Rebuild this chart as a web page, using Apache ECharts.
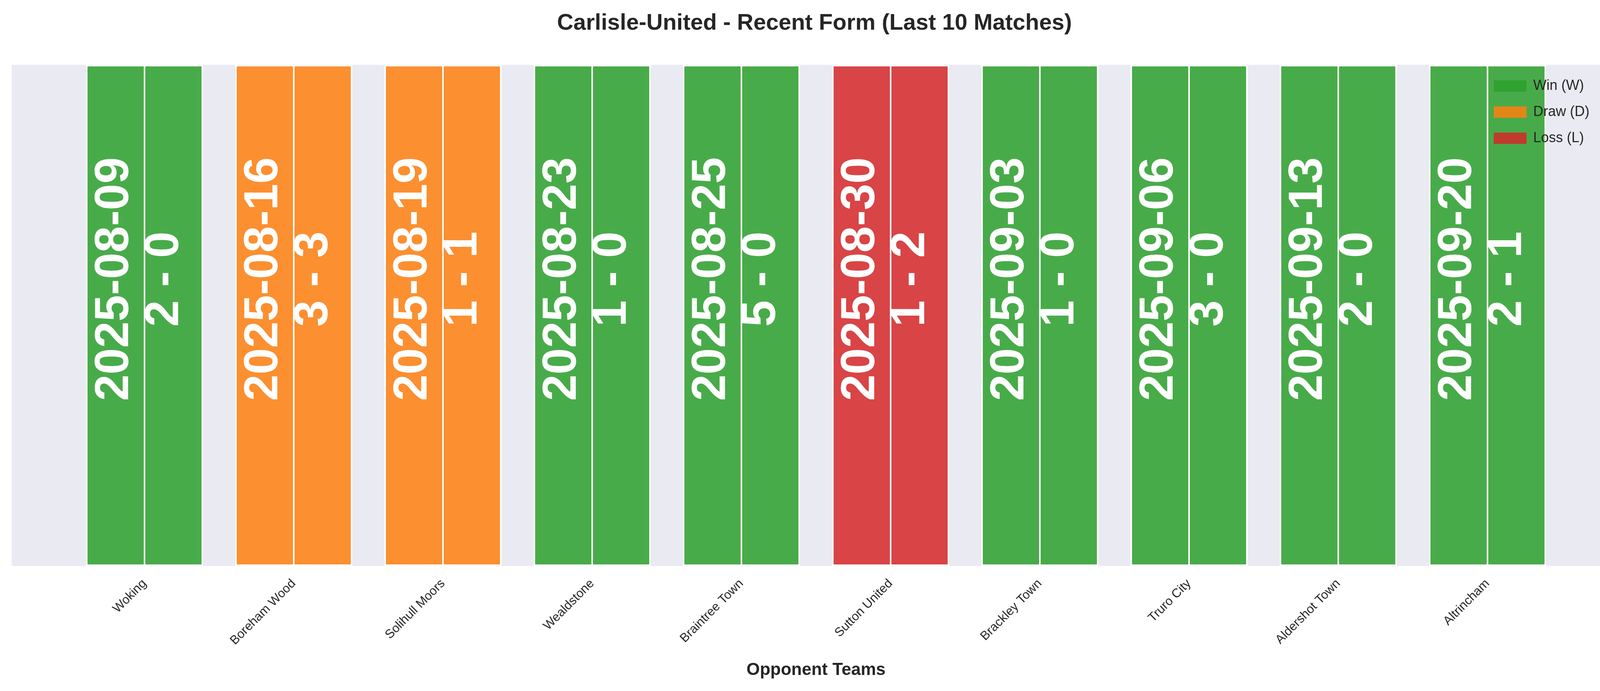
<!DOCTYPE html>
<html>
<head>
<meta charset="utf-8">
<style>
  html, body { margin: 0; padding: 0; background: #fff; }
  #main { width: 4170px; height: 1769px; }
</style>
<script src="https://cdn.jsdelivr.net/npm/echarts@6/dist/echarts.min.js"></script>
</head>
<body>
<div id="main"></div>
<script>
// match data
var teams = ['Woking', 'Boreham Wood', 'Solihull Moors', 'Wealdstone', 'Braintree Town',
             'Sutton United', 'Brackley Town', 'Truro City', 'Aldershot Town', 'Altrincham'];
var dates = ['2025-08-09', '2025-08-16', '2025-08-19', '2025-08-23', '2025-08-25',
             '2025-08-30', '2025-09-03', '2025-09-06', '2025-09-13', '2025-09-20'];
var scores = ['2 - 0', '3 - 3', '1 - 1', '1 - 0', '5 - 0', '1 - 2', '1 - 0', '3 - 0', '2 - 0', '2 - 1'];
var results = ['W', 'D', 'D', 'W', 'W', 'L', 'W', 'W', 'W', 'W'];
var barValue = [1, 1, 1, 1, 1, 1, 1, 1, 1, 1];

var FONT = "'Liberation Sans', Arial, sans-serif";
var colors = { W: '#2ca02c', D: '#ff7f0e', L: '#d62728' };
var fills = { W: 'rgba(44,160,44,0.85)', D: 'rgba(255,127,14,0.85)', L: 'rgba(214,39,40,0.85)' };
var names = { W: 'Win (W)', D: 'Draw (D)', L: 'Loss (L)' };

var chart = echarts.init(document.getElementById('main'));

// one series per result, so the legend gets one entry each
var series = ['W', 'D', 'L'].map(function (r) {
    return {
        name: names[r],
        type: 'bar',
        xAxisIndex: 1,
        yAxisIndex: 1,
        barGap: '-100%',
        barWidth: 300,
        z: 3,
        itemStyle: { color: fills[r], borderColor: '#fff', borderWidth: 4 },
        label: {
            show: true,
            position: 'inside',
            rotate: 90,
            offset: [93, -12],
            color: '#fff',
            fontFamily: FONT,
            fontWeight: 'bold',
            fontSize: 122,
            lineHeight: 128,
            formatter: function (p) { return dates[p.dataIndex] + '\n' + scores[p.dataIndex]; }
        },
        data: barValue.map(function (v, i) { return results[i] === r ? v : '-'; })
    };
});

// faint gridlines at category centres, under the bars
series.push({
    type: 'line',
    xAxisIndex: 1,
    yAxisIndex: 1,
    data: [],
    z: 1,
    silent: true,
    markLine: {
        symbol: 'none',
        silent: true,
        label: { show: false },
        lineStyle: { color: '#ffffff', type: 'solid', width: 4 },
        data: teams.map(function (t) { return { xAxis: t }; })
    }
});

var option = {
    backgroundColor: '#ffffff',
    textStyle: { fontFamily: FONT },
    title: {
        text: 'Carlisle-United - Recent Form (Last 10 Matches)',
        left: 'center',
        top: 26,
        textStyle: { fontSize: 58, fontWeight: 'bold', color: '#262626', fontFamily: FONT }
    },
    legend: {
        data: ['Win (W)', 'Draw (D)', 'Loss (L)'],
        orient: 'vertical',
        left: 3819,
        top: 197,
        icon: 'rect',
        itemWidth: 84,
        itemHeight: 29,
        itemGap: 31,
        itemStyle: { borderWidth: 0 },
        textStyle: { fontSize: 36, color: '#262626', fontFamily: FONT, padding: [0, 0, 0, 12] }
    },
    color: [colors.W, colors.D, colors.L],
    grid: [
        { left: 30, right: 30, top: 166, bottom: 320, show: true, backgroundColor: '#EAEAF2', borderWidth: 0 },
        { left: 179, right: 171, top: 166, bottom: 320 }
    ],
    xAxis: [
        { gridIndex: 0, type: 'value', show: false },
        {
            gridIndex: 1,
            type: 'category',
            data: teams,
            axisLine: { show: false },
            axisTick: { show: false },
            splitLine: { show: false },
            axisLabel: { rotate: 45, fontSize: 32, color: '#262626', margin: 40, interval: 0, fontFamily: FONT },
            name: 'Opponent Teams',
            nameLocation: 'middle',
            nameGap: 245,
            nameTextStyle: { fontSize: 44, fontWeight: 'bold', color: '#262626', fontFamily: FONT }
        }
    ],
    yAxis: [
        { gridIndex: 0, type: 'value', show: false },
        { gridIndex: 1, type: 'value', min: 0, max: 1, show: false }
    ],
    series: series
};

chart.setOption(option);
</script>
</body>
</html>
